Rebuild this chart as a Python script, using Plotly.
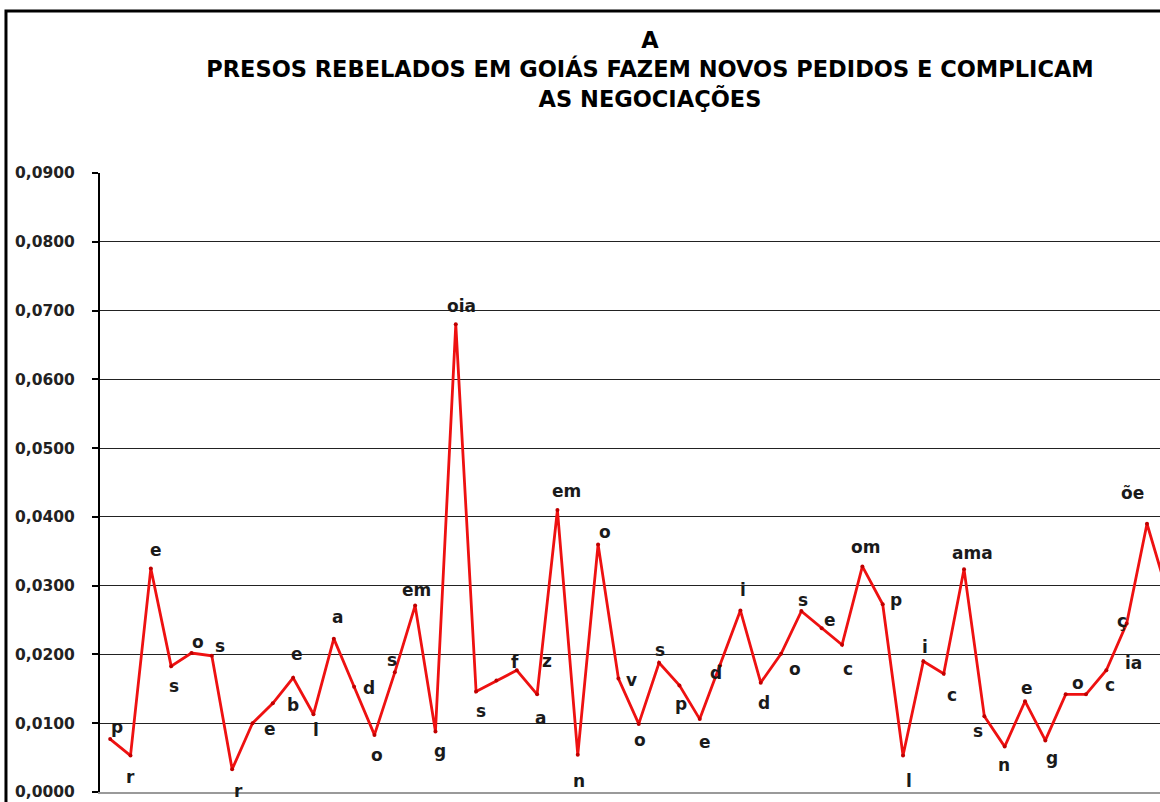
import plotly.graph_objects as go

# syllable labels, one per point, in order
labels = ["p", "r", "e", "s", "o", "s", "r", "e", "b", "e",
          "l", "a", "d", "o", "s", "em", "g", "oia", "s", "f",
          "a", "z", "em", "n", "o", "v", "o", "s", "p", "e",
          "d", "i", "d", "o", "s", "e", "c", "om", "p", "l",
          "i", "c", "ama", "s", "n", "e", "g", "o", "c", "ia",
          "ç", "õe", "s"]

values = [0.0077, 0.0053, 0.0325, 0.0183, 0.0202, 0.0198, 0.0033, 0.0100, 0.0129, 0.0166,
          0.0113, 0.0223, 0.0153, 0.0083, 0.0174, 0.0271, 0.0088, 0.0680, 0.0146, 0.0162,
          0.0177, 0.0142, 0.0410, 0.0054, 0.0360, 0.0165, 0.0099, 0.0188, 0.0155, 0.0106,
          0.0184, 0.0264, 0.0159, 0.0201, 0.0263, 0.0238, 0.0214, 0.0328, 0.0273, 0.0053,
          0.0190, 0.0172, 0.0324, 0.0110, 0.0066, 0.0132, 0.0075, 0.0142, 0.0142, 0.0177,
          0.0245, 0.0390, 0.0290]

yticks = [0.00, 0.01, 0.02, 0.03, 0.04, 0.05, 0.06, 0.07, 0.08, 0.09]

title_lines = ["A",
               "PRESOS REBELADOS EM GOIÁS FAZEM NOVOS PEDIDOS E COMPLICAM",
               "AS NEGOCIAÇÕES"]

# pixel offsets of each data label from its point (x right, y down)
label_dx = [7, 0, 5, 3, 7, 8, 6, 18, 20, 4,
            3, 4, 15, 3, -3, 1, 5, 6, 5, 19,
            24, 10, 9, 1, 7, 13, 1, 1, 2, 5,
            -4, 3, 3, 14, 2, 8, 6, 3, 13, 6,
            2, 8, 8, -6, -1, 2, 7, 12, 24, 27,
            -5, -14, -9]
label_dy = [-12, 21, -18, 20, -11, -10, 22, 6, 2, -24,
            16, -22, 1, 20, -12, -16, 20, -18, 19, -19,
            48, -33, -19, 26, -12, 1, 16, -13, 19, 23,
            8, -20, 20, 15, -11, -8, 24, -19, -4, 25,
            -14, 21, -16, 15, 18, -13, 18, -11, -9, -7,
            -2, -31, 4]

xs = list(range(len(values)))
label_font = dict(family="DejaVu Sans", size=17, color="#1a1a1a", weight="bold")

fig = go.Figure()
fig.add_trace(go.Scatter(
    x=xs, y=values, mode="lines+markers",
    line=dict(color="#ee1111", width=2.8),
    marker=dict(size=4, color="#c00000"),
    hoverinfo="skip", showlegend=False))

# the last point lies past the visible edge; annotations off-range are hidden,
# so its label goes in as an unclipped text trace
fig.add_trace(go.Scatter(
    x=xs[-1:], y=values[-1:], text=labels[-1:], mode="text",
    textposition="bottom left", textfont=label_font, cliponaxis=False,
    hoverinfo="skip", showlegend=False))

annots = []
for i, (lab, v) in enumerate(zip(labels[:-1], values[:-1])):
    annots.append(dict(
        x=i, y=v, xref="x", yref="y", text=lab, showarrow=False,
        xshift=label_dx[i], yshift=-label_dy[i], font=label_font))

# outer chart-area frame (cropped at right and bottom)
shapes = [dict(type="rect", xref="paper", yref="paper",
               x0=-0.0887, x1=1.1, y0=-0.1, y1=1.2617,
               line=dict(color="black", width=3), fillcolor="rgba(0,0,0,0)", layer="above")]

fig.update_layout(
    width=1160, height=802,
    margin=dict(l=100, r=0, t=173, b=10),
    paper_bgcolor="white", plot_bgcolor="white",
    separators=",.",
    title=dict(text="<br>".join(title_lines),
               x=650 / 1160, xref="container", xanchor="center",
               y=1 - 48 / 802, yref="container", yanchor="top",
               font=dict(family="DejaVu Sans", size=22.5, color="black", weight="bold")),
    xaxis=dict(range=[-0.5, -0.5 + 1060 / 20.33], showticklabels=False, ticks="",
               showgrid=False, zeroline=False, showline=True, linecolor="#9a9a9a",
               linewidth=2, mirror=False),
    yaxis=dict(range=[0, 0.09], tickvals=yticks, tickformat=".4f",
               showgrid=True, gridcolor="#222222", gridwidth=1, zeroline=False,
               showline=True, linecolor="black", linewidth=2,
               ticks="outside", ticklen=6, tickcolor="black", tickwidth=1.5,
               ticklabelstandoff=14,
               tickfont=dict(family="DejaVu Sans", size=15.5, color="#222222", weight="bold")),
    annotations=annots,
    shapes=shapes,
)

# drop the page's default body margin so the figure sits at the window corner
fig.write_html("out.html", config={"displayModeBar": False},
               post_script="document.body.style.margin='0';")
